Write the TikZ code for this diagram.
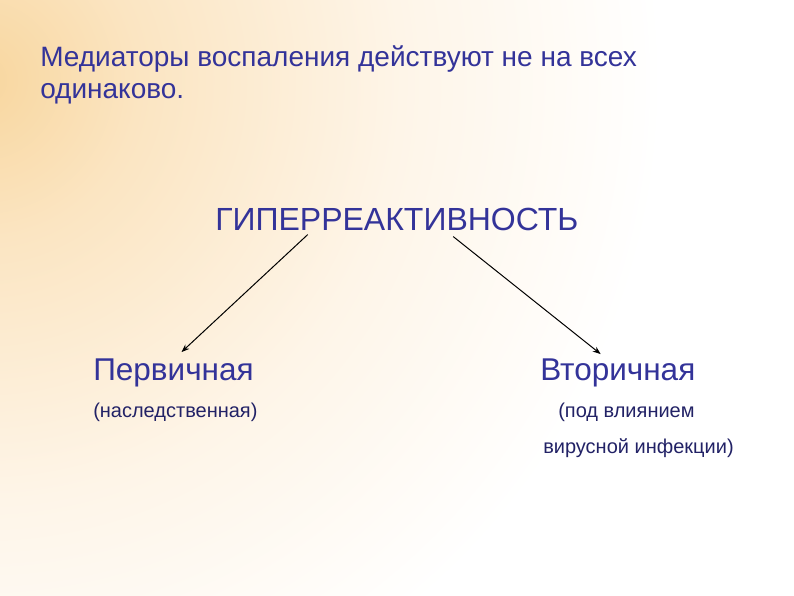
\documentclass[tikz,border=0pt]{standalone}
\usepackage{fontspec}
\setmainfont{Liberation Sans}
\usepackage{tikz}
\usetikzlibrary{arrows,arrows.meta,positioning,calc}
\definecolor{bgA}{RGB}{248,214,158}
\definecolor{bgB}{RGB}{251,229,194}
\definecolor{bgC}{RGB}{254,245,232}
\definecolor{ink}{RGB}{51,51,153}
\definecolor{inksmall}{RGB}{34,34,102}
\pgfdeclareradialshading{slidebg}{\pgfpoint{0bp}{0bp}}{color(0bp)=(bgA); color(160bp)=(bgB); color(420bp)=(bgC); color(680bp)=(white); color(720bp)=(white)}
\tikzset{every picture/.style={line width=0.5pt}}
\tikzstyle{head}=[inner sep=0pt,anchor=base west,text=ink,font=\fontsize{28}{34}\selectfont]
\tikzstyle{big}=[inner sep=0pt,anchor=base west,text=ink,font=\fontsize{32}{38}\selectfont]
\tikzstyle{kind}=[inner sep=0pt,anchor=base west,text=ink,font=\fontsize{31.5}{38}\selectfont]
\tikzstyle{note}=[inner sep=0pt,anchor=base west,text=inksmall,font=\fontsize{20}{24}\selectfont]

\begin{document}
\begin{tikzpicture}[x=1pt,y=-1pt]
\useasboundingbox (0,0) rectangle (794,595);
\fill[white] (0,0) rectangle (794,595);
\begin{scope}
\clip (0,0) rectangle (794,595);
\node[inner sep=0pt] (bg) at (-20,80) {\pgfuseshading{slidebg}};
\end{scope}
\node[head] (T1) at (40,66) {Медиаторы воспаления действуют не на всех};
\node[head] (T2) at (40,98) {одинаково.};
\node[big] (H) at (215,230) {ГИПЕРРЕАКТИВНОСТЬ};
\node[kind] (P) at (93,380) {Первичная};
\node[kind] (V) at (540,380) {Вторичная};
\node[note] (P1) at (93,417) {(наследственная)};
\node[note] (V1) at (558,417) {(под влиянием};
\node[note] (V2) at (543,453) {вирусной инфекции)};
\path[->,line width=1pt,>={Stealth[length=8pt,width=6pt]}]
([yshift=-4pt]$(H.south west)!0.255!(H.south east)$) edge ($(P.north west)!0.55!(P.north east)+(0,-6)$)
([yshift=-6pt]$(H.south west)!0.655!(H.south east)$) edge ($(V.north west)!0.39!(V.north east)+(0,-4)$);
\end{tikzpicture}
\end{document}
